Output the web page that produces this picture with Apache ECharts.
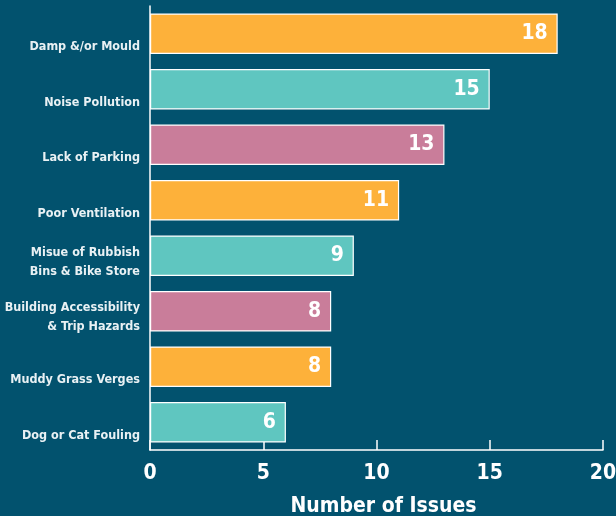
<!DOCTYPE html>
<html><head><meta charset="utf-8">
<script src="https://cdn.jsdelivr.net/npm/echarts@6/dist/echarts.min.js"></script>
<style>html,body{margin:0;padding:0;background:#02526e;}#c{width:616px;height:516px;}</style>
</head><body><div id="c"></div>
<script>
const categories = ["Damp &/or Mould","Noise Pollution","Lack of Parking","Poor Ventilation","Misue of Rubbish\nBins & Bike Store","Building Accessibility\n& Trip Hazards","Muddy Grass Verges","Dog or Cat Fouling"];
const values = [18,15,13,11,9,8,8,6];
const colors = ["#fdb13a","#5fc6c0","#c97d9a","#fdb13a","#5fc6c0","#c97d9a","#fdb13a","#5fc6c0"];
const xTicks = [0,5,10,15,20];
const font = "'Liberation Sans Narrow','DejaVu Sans Condensed',sans-serif";
const chart = echarts.init(document.getElementById('c'));
const lblStyle = {color:'#e9f1f4',fontSize:12.5,fontWeight:'bold',fontFamily:font,lineHeight:19,align:'right'};
chart.setOption({
  backgroundColor:'#02526e',
  animation:false,
  grid:{left:150,right:13,top:6,bottom:66,containLabel:false,outerBoundsMode:'none'},
  xAxis:{type:'value',min:xTicks[0],max:xTicks[xTicks.length-1],interval:5,
    axisLine:{show:true,lineStyle:{color:'#ffffff',width:1.5}},
    axisTick:{show:true,inside:true,length:10,lineStyle:{color:'#ffffff',width:1.5}},
    splitLine:{show:false},
    axisLabel:{color:'#ffffff',fontSize:21,fontWeight:'bold',fontFamily:font,margin:13},
    name:'Number of Issues',nameLocation:'middle',nameGap:46,
    nameTextStyle:{color:'#ffffff',fontSize:21,fontWeight:'bold',fontFamily:font,padding:[0,0,0,14]}
  },
  yAxis:{type:'category',inverse:true,data:categories,
    axisLine:{show:true,lineStyle:{color:'#ffffff',width:1.5}},
    axisTick:{show:false},
    axisLabel:{color:'#e9f1f4',fontSize:12.5,fontWeight:'bold',fontFamily:font,margin:10,align:'right',
      formatter:function(v){
        const lines=v.split('\n');
        const gap = lines.length>1 ? '{g2| }' : '{g1| }';
        return gap+'\n'+lines.map(l=>'{t|'+l+'}').join('\n');
      },
      rich:{
        g1:{lineHeight:26,fontSize:1},
        g2:{lineHeight:12,fontSize:1},
        t:lblStyle
      }
    }
  },
  series:[{type:'bar',data:values.map((v,i)=>({value:v,itemStyle:{color:colors[i]}})),
    barCategoryGap:'27%',
    itemStyle:{borderColor:'#ffffff',borderWidth:1.2},
    label:{show:true,position:'insideRight',color:'#ffffff',fontSize:21,fontWeight:'bold',fontFamily:font,distance:10}
  }]
});
</script></body></html>
